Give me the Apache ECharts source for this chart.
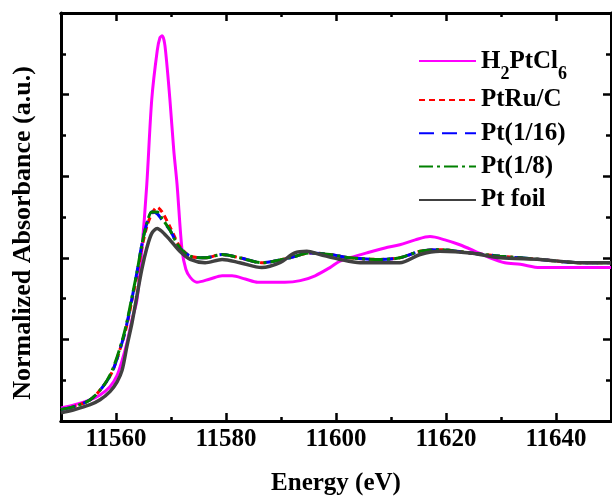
<!DOCTYPE html>
<html>
<head>
<meta charset="utf-8">
<style>
  html, body { margin: 0; padding: 0; background: #ffffff; }
  #chart { width: 612px; height: 496px; }
</style>
<script src="https://cdn.jsdelivr.net/npm/echarts@6/dist/echarts.min.js"></script>
</head>
<body>
<div id="chart"></div>
<script>
// Pt L3-edge XANES spectra: [energy (eV), normalized absorbance]
const h2ptcl6 = [[11550,0.08],[11552.5,0.10],[11555.3,0.13],[11557.1,0.16],[11558.9,0.21],[11560.2,0.28],[11561.1,0.37],[11562.0,0.48],[11562.9,0.62],[11563.8,0.74],[11564.7,1.05],[11565.6,1.45],[11566.5,1.97],[11567.5,2.27],[11568.0,2.35],[11568.4,2.36],[11568.9,2.30],[11569.8,1.97],[11570.5,1.66],[11571.1,1.45],[11572.0,1.05],[11572.7,0.93],[11573.5,0.88],[11574.7,0.85],[11577.1,0.87],[11579.3,0.89],[11581.1,0.89],[11583.5,0.87],[11585.8,0.85],[11588.0,0.85],[11590.7,0.85],[11593.5,0.86],[11596.2,0.89],[11598.9,0.94],[11600.7,0.98],[11602.5,1.00],[11605.6,1.03],[11608.9,1.06],[11611.6,1.08],[11614.4,1.11],[11617.1,1.13],[11619.8,1.11],[11622.5,1.08],[11625.3,1.04],[11628.0,1.00],[11630.7,0.97],[11633.5,0.96],[11637.1,0.94],[11642.5,0.94],[11650,0.94]];

const ptRuC = [[11550,0.07],[11552.5,0.09],[11555.3,0.13],[11557.6,0.21],[11559.3,0.30],[11561.1,0.48],[11562.0,0.59],[11562.9,0.74],[11563.8,0.89],[11564.7,1.06],[11565.6,1.19],[11566.5,1.27],[11567.5,1.31],[11568.4,1.28],[11569.8,1.19],[11571.6,1.07],[11573.5,1.01],[11576.2,1.00],[11579.3,1.02],[11582.5,1.00],[11586.5,0.97],[11591.6,1.00],[11595.3,1.03],[11598.9,1.02],[11602.5,1.00],[11608.0,0.99],[11611.6,1.00],[11615.3,1.04],[11618.9,1.05],[11624.4,1.03],[11629.8,1.01],[11637.1,0.99],[11644.4,0.97],[11650,0.97]];

const pt116 = [[11550,0.07],[11552.5,0.09],[11555.3,0.13],[11557.6,0.21],[11559.3,0.30],[11561.1,0.48],[11562.0,0.60],[11562.9,0.75],[11563.8,0.91],[11564.7,1.08],[11565.6,1.21],[11566.5,1.28],[11567.5,1.27],[11568.4,1.23],[11569.8,1.17],[11571.6,1.06],[11573.5,1.01],[11576.2,1.00],[11579.3,1.02],[11582.5,1.00],[11586.5,0.97],[11591.6,1.00],[11595.3,1.03],[11598.9,1.02],[11602.5,1.00],[11608.0,0.99],[11611.6,1.00],[11615.3,1.04],[11618.9,1.05],[11624.4,1.03],[11629.8,1.01],[11637.1,0.99],[11644.4,0.97],[11650,0.97]];

const pt18 = [[11550,0.07],[11552.5,0.09],[11555.3,0.13],[11557.6,0.21],[11559.3,0.31],[11561.1,0.49],[11562.0,0.61],[11562.9,0.76],[11563.8,0.91],[11564.7,1.08],[11565.6,1.21],[11566.5,1.28],[11567.5,1.28],[11568.4,1.24],[11569.8,1.17],[11571.6,1.06],[11573.5,1.01],[11576.2,1.00],[11579.3,1.02],[11582.5,1.00],[11586.5,0.97],[11591.6,1.00],[11595.3,1.03],[11598.9,1.02],[11602.5,1.00],[11608.0,0.99],[11611.6,1.00],[11615.3,1.04],[11618.9,1.05],[11624.4,1.03],[11629.8,1.01],[11637.1,0.99],[11644.4,0.97],[11650,0.97]];

const ptFoil = [[11550,0.05],[11552.5,0.07],[11555.3,0.10],[11557.1,0.13],[11558.9,0.18],[11560.2,0.24],[11561.1,0.31],[11562.0,0.46],[11562.9,0.60],[11563.5,0.71],[11564.7,0.93],[11565.6,1.06],[11566.5,1.15],[11567.5,1.18],[11568.4,1.16],[11569.8,1.11],[11571.6,1.04],[11573.5,0.99],[11576.2,0.97],[11579.3,0.99],[11582.5,0.97],[11586.5,0.94],[11589.8,0.97],[11592.5,1.03],[11594.7,1.04],[11597.1,1.02],[11600.7,0.99],[11604.4,0.97],[11608.0,0.97],[11611.6,0.97],[11615.3,1.02],[11618.9,1.04],[11624.4,1.03],[11629.8,1.00],[11637.1,0.99],[11644.4,0.97],[11650,0.97]];

const seriesNames = ['H2PtCl6', 'PtRu/C', 'Pt(1/16)', 'Pt(1/8)', 'Pt foil'];
const majorTicks = [11560, 11580, 11600, 11620, 11640];
const minorTicks = [11550, 11570, 11590, 11610, 11630, 11650];

const FONT = "'Liberation Serif', 'Times New Roman', serif";
const black = '#000000';

function xAxisDef(position, values, len, withLabels, withName) {
  return {
    type: 'value', position: position, min: 11550, max: 11650,
    axisLine: { show: true, onZero: false, lineStyle: { color: black, width: 3 } },
    axisTick: { show: true, inside: true, length: len, customValues: values, lineStyle: { color: black, width: 2.5 } },
    axisLabel: withLabels ? {
      show: true, customValues: values, color: black, fontFamily: FONT, fontWeight: 'bold', fontSize: 25, margin: 6,
      formatter: function (v) { return String(v); }
    } : { show: false },
    splitLine: { show: false },
    name: withName ? 'Energy (eV)' : '',
    nameLocation: 'middle', nameGap: 50,
    nameTextStyle: { color: black, fontFamily: FONT, fontWeight: 'bold', fontSize: 25 }
  };
}

function yAxisDef(position, withName) {
  return {
    type: 'value', position: position, min: 0, max: 2.5, interval: 0.5,
    axisLine: { show: true, onZero: false, lineStyle: { color: black, width: 3 } },
    axisTick: { show: true, inside: true, length: 8, lineStyle: { color: black, width: 2.5 } },
    minorTick: { show: true, splitNumber: 2, length: 5, lineStyle: { color: black, width: 2.5 } },
    axisLabel: { show: false },
    splitLine: { show: false },
    name: withName ? 'Normalized Absorbance (a.u.)' : '',
    nameLocation: 'middle', nameGap: 25,
    nameTextStyle: { color: black, fontFamily: FONT, fontWeight: 'bold', fontSize: 26, padding: [0, 32, 0, 0] }
  };
}

function lineSeries(name, data, color, width, dash) {
  return {
    name: name, type: 'line', data: data, xAxisIndex: 0, yAxisIndex: 0,
    symbol: 'none', smooth: 0.3,
    lineStyle: { color: color, width: width, type: dash },
    itemStyle: { color: color }
  };
}

const legendBase = {
  orient: 'vertical', left: 418, padding: 0,
  itemWidth: 57, itemHeight: 14,
  itemStyle: { color: 'rgba(0,0,0,0)', borderColor: 'rgba(0,0,0,0)', borderWidth: 0, opacity: 0 }
};

const chart = echarts.init(document.getElementById('chart'), null, { renderer: 'canvas' });
chart.setOption({
  animation: false,
  backgroundColor: '#ffffff',
  grid: { left: 61, right: 1, top: 13, bottom: 75, containLabel: false, outerBoundsMode: 'none' },
  xAxis: [
    xAxisDef('bottom', majorTicks, 8, true, true),
    xAxisDef('bottom', minorTicks, 4, false, false),
    xAxisDef('top', majorTicks, 8, false, false),
    xAxisDef('top', minorTicks, 4, false, false)
  ],
  yAxis: [yAxisDef('left', true), yAxisDef('right', false)],
  legend: [
    Object.assign({}, legendBase, {
      top: 49,
      data: seriesNames.slice(0, 1),
      formatter: function () { return '{b|H}{s|2}{b|PtCl}{s|6}'; },
      textStyle: {
        color: black,
        padding: [10, 0, 0, 0],
        rich: {
          b: { fontFamily: FONT, fontWeight: 'bold', fontSize: 25, color: black, verticalAlign: 'top' },
          s: { fontFamily: FONT, fontWeight: 'bold', fontSize: 18, color: black, verticalAlign: 'top', padding: [16, 0, 0, 0] }
        }
      }
    }),
    Object.assign({}, legendBase, {
      top: 87, itemGap: 7.3,
      data: seriesNames.slice(1),
      textStyle: { color: black, fontFamily: FONT, fontWeight: 'bold', fontSize: 25, lineHeight: 26 }
    })
  ],
  series: [
    lineSeries('H2PtCl6', h2ptcl6, '#ff00ff', 3, 'solid'),
    lineSeries('PtRu/C', ptRuC, '#ff0000', 3, [6, 4]),
    lineSeries('Pt(1/16)', pt116, '#0000ff', 3, [15, 8]),
    lineSeries('Pt(1/8)', pt18, '#008000', 3, [14, 4, 3, 4]),
    lineSeries('Pt foil', ptFoil, '#404040', 3.5, 'solid')
  ]
});
</script>
</body>
</html>
